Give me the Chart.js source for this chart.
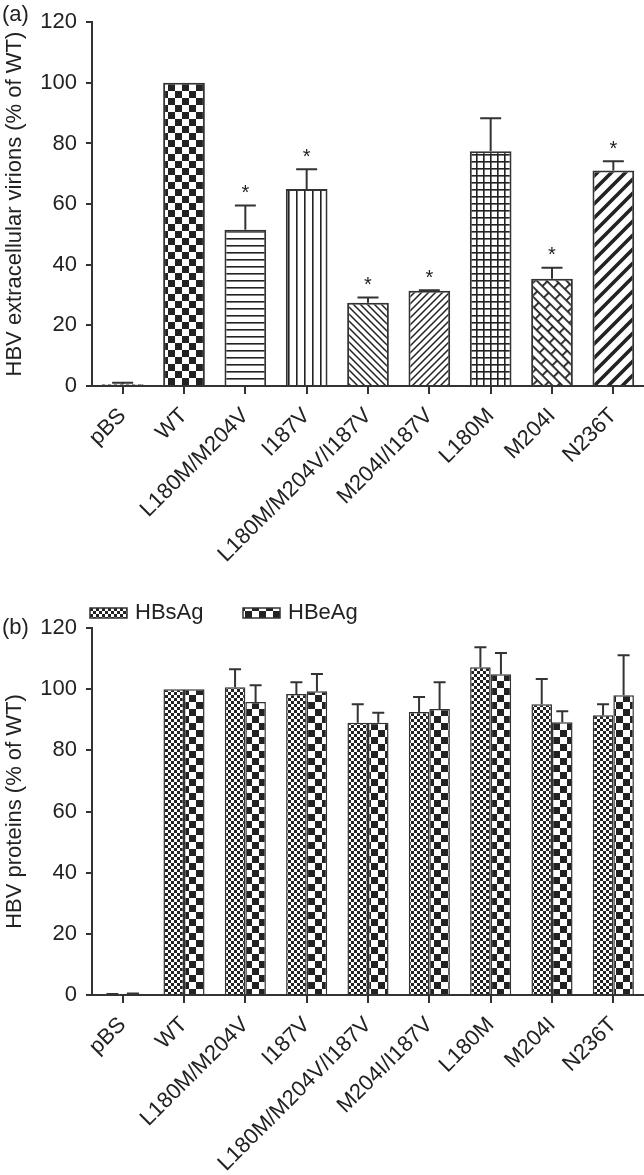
<!DOCTYPE html>
<html>
<head>
<meta charset="utf-8">
<script src="https://cdn.jsdelivr.net/npm/chart.js@4.4.0/dist/chart.umd.min.js"></script>
<style>
  html, body { margin: 0; padding: 0; background: #fff; }
  canvas { position: absolute; left: 0; }
  #chartA { top: 0; }
  #chartB { top: 590px; }
</style>
</head>
<body>
<canvas id="chartA" width="644" height="590"></canvas>
<canvas id="chartB" width="644" height="585"></canvas>
<script>
const categories = ['pBS', 'WT', 'L180M/M204V', 'I187V', 'L180M/M204V/I187V', 'M204I/I187V', 'L180M', 'M204I', 'N236T'];

// panel (a): extracellular virions
const virions = [0.6, 100, 51.5, 65, 27.5, 31.4, 77.4, 35.4, 71.1];
const virionsErr = [0.5, 0, 8, 6.5, 1.7, 0.2, 10.9, 3.6, 3];
const virionsStar = [false, false, true, true, true, true, false, true, true];

// panel (b): HBsAg / HBeAg
const hbsag = [0.2, 100, 100.6, 98.4, 89, 92.5, 107.2, 95.1, 91.5];
const hbsagErr = [0.1, 0, 5.9, 3.9, 6.1, 4.9, 6.5, 8.2, 3.6];
const hbeag = [0.4, 100, 95.8, 99.3, 89, 93.5, 104.9, 89.2, 98];
const hbeagErr = [0.1, 0, 5.5, 5.7, 3.3, 8.8, 6.9, 3.6, 13.1];

const yTicks = [0, 20, 40, 60, 80, 100, 120];

const INK = '#222';
const FONT = 'Liberation Sans, Arial, sans-serif';
const SIZE = 22;

// ---- fill patterns ----
function tile(w, h, draw, transform) {
  const c = document.createElement('canvas');
  c.width = w; c.height = h;
  const g = c.getContext('2d');
  g.fillStyle = '#fff';
  g.fillRect(0, 0, w, h);
  g.fillStyle = INK;
  g.strokeStyle = INK;
  draw(g, w, h);
  const p = document.createElement('canvas').getContext('2d').createPattern(c, 'repeat');
  if (transform) p.setTransform(transform);
  return p;
}

const checker = (s) => tile(2 * s, 2 * s, (g) => {
  g.fillRect(0, 0, s, s);
  g.fillRect(s, s, s, s);
});

const diag = (s, lw, up) => tile(s, s, (g) => {
  g.lineWidth = lw;
  g.beginPath();
  if (up) {
    g.moveTo(-1, s + 1); g.lineTo(s + 1, -1);
    g.moveTo(-2, 2); g.lineTo(2, -2);
    g.moveTo(s - 2, s + 2); g.lineTo(s + 2, s - 2);
  } else {
    g.moveTo(-1, -1); g.lineTo(s + 1, s + 1);
    g.moveTo(s - 2, -2); g.lineTo(s + 2, 2);
    g.moveTo(-2, s - 2); g.lineTo(2, s + 2);
  }
  g.stroke();
});

const pat = {
  fine: checker(3),
  check: checker(7),
  hlines: tile(8, 7, (g) => g.fillRect(0, 0, 8, 1.6)),
  vlines: tile(8, 8, (g) => g.fillRect(0, 0, 1.6, 8)),
  down: diag(7, 1.5, false),
  up: diag(7, 1.5, true),
  grid: tile(7, 7, (g) => { g.fillRect(0, 0, 7, 1.6); g.fillRect(0, 0, 1.6, 7); }),
  brick: tile(18, 14, (g) => {
    g.fillRect(0, 0, 18, 1.8);
    g.fillRect(0, 7, 18, 1.8);
    g.fillRect(0, 0, 1.8, 7);
    g.fillRect(9, 7, 1.8, 7);
  }, new DOMMatrix().rotate(45)),
  thick: diag(14, 3.6, true)
};

const virionsFill = [pat.fine, pat.check, pat.hlines, pat.vlines, pat.down, pat.up, pat.grid, pat.brick, pat.thick];

// ---- plugins ----
const errorBars = {
  id: 'errorBars',
  afterDatasetsDraw(chart, args, opts) {
    const { ctx } = chart;
    const y = chart.scales.y;
    ctx.save();
    ctx.strokeStyle = '#333';
    ctx.lineWidth = 2;
    chart.data.datasets.forEach((ds, i) => {
      chart.getDatasetMeta(i).data.forEach((bar, j) => {
        const err = ds.errors[j];
        const top = y.getPixelForValue(ds.data[j] + err);
        if (err > 0) {
          ctx.beginPath();
          ctx.moveTo(bar.x, bar.y);
          ctx.lineTo(bar.x, top);
          ctx.moveTo(bar.x - opts.cap / 2, top);
          ctx.lineTo(bar.x + opts.cap / 2, top);
          ctx.stroke();
        }
        if (ds.stars && ds.stars[j]) {
          ctx.fillStyle = INK;
          ctx.font = '20px ' + FONT;
          ctx.textAlign = 'center';
          ctx.textBaseline = 'middle';
          ctx.fillText('*', bar.x, top - 12);
        }
      });
    });
    ctx.restore();
  }
};

const panelLabel = {
  id: 'panelLabel',
  afterDraw(chart, args, opts) {
    const { ctx } = chart;
    ctx.save();
    ctx.fillStyle = INK;
    ctx.font = SIZE + 'px ' + FONT;
    ctx.textBaseline = 'middle';
    ctx.fillText(opts.text, opts.x, opts.y);
    ctx.restore();
  }
};

const patternLegend = {
  id: 'patternLegend',
  afterDraw(chart, args, opts) {
    if (!opts.items) return;
    const { ctx } = chart;
    ctx.save();
    chart.data.datasets.forEach((ds, i) => {
      const it = opts.items[i];
      ctx.fillStyle = ds.backgroundColor;
      ctx.fillRect(it.x, opts.y, 37, 10);
      ctx.strokeStyle = '#333';
      ctx.lineWidth = 1.5;
      ctx.strokeRect(it.x, opts.y, 37, 10);
      ctx.fillStyle = INK;
      ctx.font = SIZE + 'px ' + FONT;
      ctx.textBaseline = 'middle';
      ctx.fillText(ds.label, it.x + 45, opts.y + 5);
    });
    ctx.restore();
  }
};

function scalesFor(title, xHeight) {
  return {
    x: {
      grid: { display: true, drawOnChartArea: false, offset: false, tickLength: 8, color: '#333', lineWidth: 2 },
      border: { display: true, color: '#333', width: 2 },
      ticks: { color: INK, font: { family: FONT, size: SIZE }, minRotation: 45, maxRotation: 45, padding: 9, autoSkip: false },
      afterFit: (s) => { s.height = xHeight; }
    },
    y: {
      min: 0, max: 120,
      afterBuildTicks: (s) => { s.ticks = yTicks.map((v) => ({ value: v })); },
      grid: { display: true, drawOnChartArea: false, tickLength: 6, color: '#333', lineWidth: 2 },
      border: { display: true, color: '#333', width: 2 },
      ticks: { color: INK, font: { family: FONT, size: SIZE }, padding: 9 },
      title: { display: true, text: title, color: INK, font: { family: FONT, size: SIZE }, padding: { top: 2, bottom: 0 } },
      afterFit: (s) => { s.width = 92; }
    }
  };
}

new Chart(document.getElementById('chartA'), {
  type: 'bar',
  data: {
    labels: categories,
    datasets: [{
      label: 'virions',
      data: virions,
      errors: virionsErr,
      stars: virionsStar,
      backgroundColor: virionsFill,
      borderColor: '#333',
      borderWidth: 2,
      categoryPercentage: 1,
      barPercentage: 0.68
    }]
  },
  options: {
    responsive: false,
    animation: false,
    layout: { padding: { top: 20, right: 0, bottom: 0, left: 0 } },
    scales: scalesFor('HBV extracellular virions (% of WT)', 204),
    plugins: {
      legend: { display: false },
      tooltip: { enabled: false },
      errorBars: { cap: 21 },
      panelLabel: { text: '(a)', x: 2, y: 15 }
    }
  },
  plugins: [errorBars, panelLabel, patternLegend]
});

new Chart(document.getElementById('chartB'), {
  type: 'bar',
  data: {
    labels: categories,
    datasets: [
      {
        label: 'HBsAg',
        data: hbsag,
        errors: hbsagErr,
        backgroundColor: pat.fine,
        borderColor: '#333',
        borderWidth: 1.5,
        categoryPercentage: 0.67,
        barPercentage: 1
      },
      {
        label: 'HBeAg',
        data: hbeag,
        errors: hbeagErr,
        backgroundColor: pat.check,
        borderColor: '#333',
        borderWidth: 1.5,
        categoryPercentage: 0.67,
        barPercentage: 1
      }
    ]
  },
  options: {
    responsive: false,
    animation: false,
    layout: { padding: { top: 38, right: 0, bottom: 0, left: 0 } },
    scales: scalesFor('HBV proteins (% of WT)', 180),
    plugins: {
      legend: { display: false },
      tooltip: { enabled: false },
      errorBars: { cap: 12 },
      panelLabel: { text: '(b)', x: 2, y: 38 },
      patternLegend: { y: 18, items: [{ x: 90 }, { x: 243 }] }
    }
  },
  plugins: [errorBars, panelLabel, patternLegend]
});
</script>
</body>
</html>
